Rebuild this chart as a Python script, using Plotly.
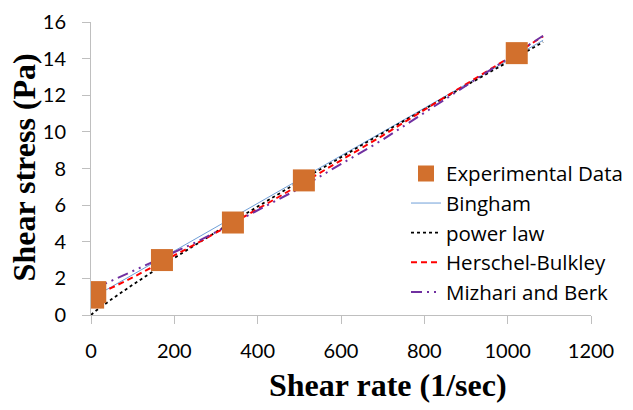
import plotly.graph_objects as go

# Measured shear stress vs shear rate (rotational viscometer readings)
shear_rate = [5.11, 10.22, 170.3, 340.6, 510.9, 1021.8]
shear_stress = [0.95, 1.25, 3.0, 5.05, 7.35, 14.3]

# Fitted rheological model curves
bingham_x = [0, 1085]
bingham_y = [0.9, 15.0]

power_x = [0, 10, 50, 100, 170, 250, 340, 500, 700, 900, 1085]
power_y = [0.0, 0.2, 0.87, 1.65, 2.69, 3.84, 5.1, 7.29, 9.94, 12.53, 14.9]

hb_x = [0, 50, 100, 170, 250, 340, 510, 700, 900, 1021, 1085]
hb_y = [1.0, 1.49, 2.05, 2.88, 3.86, 5.0, 7.23, 9.8, 12.59, 14.3, 15.22]

mb_x = [0, 10, 30, 60, 100, 170, 250, 340, 500, 700, 900, 1085]
mb_y = [1.3, 1.45, 1.67, 1.98, 2.38, 3.1, 3.95, 5.0, 6.91, 9.57, 12.5, 15.25]

x_ticks = [0, 200, 400, 600, 800, 1000, 1200]
y_ticks = [0, 2, 4, 6, 8, 10, 12, 14, 16]

tick_font = dict(family="Lato", size=20, color="#000000")
title_font = dict(family="Liberation Serif", size=32, color="#000000")

fig = go.Figure()
fig.add_trace(go.Scatter(
    x=bingham_x, y=bingham_y, mode="lines", name="Bingham", legendrank=2,
    line=dict(color="#6f9fd8", width=1),
))
fig.add_trace(go.Scatter(
    x=power_x, y=power_y, mode="lines", name="power law", legendrank=3,
    line=dict(color="#000000", width=1.8, dash="dot"),
))
fig.add_trace(go.Scatter(
    x=hb_x, y=hb_y, mode="lines", name="Herschel-Bulkley", legendrank=4,
    line=dict(color="#ff0000", width=2, dash="6px,4px"),
))
fig.add_trace(go.Scatter(
    x=mb_x, y=mb_y, mode="lines", name="Mizhari and Berk", legendrank=5,
    line=dict(color="#7030a0", width=2, dash="11px,5px,2px,5px,2px,5px"),
))
# experimental points drawn last so they sit above the model curves
fig.add_trace(go.Scatter(
    x=shear_rate, y=shear_stress, mode="markers", name="Experimental Data",
    legendrank=1,
    marker=dict(symbol="square", size=22, color="#d2702d",
                line=dict(width=0)),
))

fig.update_layout(
    width=633, height=410,
    margin=dict(l=91, r=42, t=22, b=95, autoexpand=False),
    plot_bgcolor="#ffffff", paper_bgcolor="#ffffff",
    font=tick_font,
    showlegend=True,
    legend=dict(x=0.63, y=0.551, xanchor="left", yanchor="top",
                bgcolor="rgba(0,0,0,0)", borderwidth=0,
                font=dict(family="Open Sans", size=20.5, color="#000000"),
                tracegroupgap=0),
    xaxis=dict(
        range=[0, 1200], tickvals=x_ticks,
        showgrid=False, zeroline=False, showline=True, linecolor="#bfbfbf",
        linewidth=1, ticks="outside", ticklen=8, tickcolor="#bfbfbf",
        tickfont=tick_font, ticklabelstandoff=10,
    ),
    yaxis=dict(
        range=[0, 16], tickvals=y_ticks,
        showgrid=False, zeroline=False, showline=True, linecolor="#bfbfbf",
        linewidth=1, ticks="outside", ticklen=8, tickcolor="#bfbfbf",
        tickfont=tick_font, ticklabelstandoff=12,
    ),
    annotations=[
        dict(text="<b>Shear rate (1/sec)</b>", font=title_font,
             xref="paper", yref="paper", x=0.594, y=-0.239,
             xanchor="center", yanchor="middle", showarrow=False),
        dict(text="<b>Shear stress (Pa)</b>", font=title_font, textangle=-90,
             xref="paper", yref="paper", x=-0.135, y=0.502,
             xanchor="center", yanchor="middle", showarrow=False),
    ],
)

fig.write_html("out.html")
